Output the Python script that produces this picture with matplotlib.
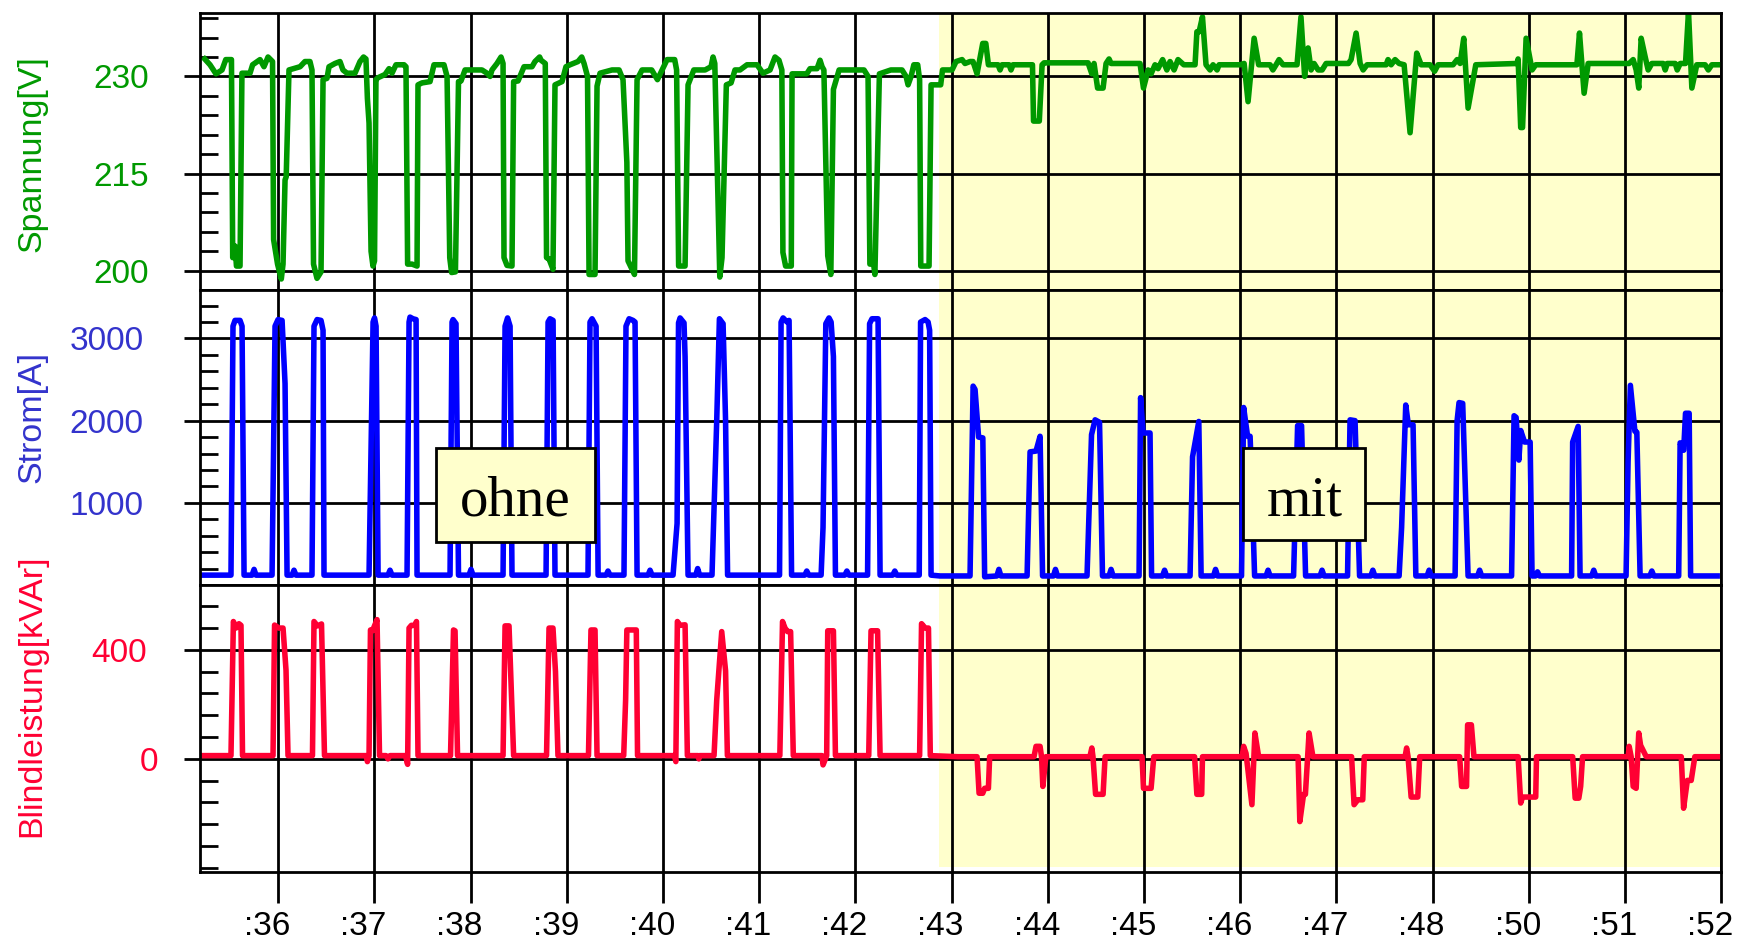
import numpy as np
import matplotlib
matplotlib.use("Agg")
import matplotlib.pyplot as plt
import matplotlib.transforms as mtransforms
from matplotlib.patches import Rectangle
from matplotlib.ticker import FixedLocator, MultipleLocator

plt.rcParams['font.family'] = ['Liberation Sans', 'DejaVu Sans']

# x axis: one unit per labelled grid step (:49 is not labelled in the original)
tick_pos = np.arange(36, 52)
tick_labels = [':36', ':37', ':38', ':39', ':40', ':41', ':42', ':43', ':44',
               ':45', ':46', ':47', ':48', ':50', ':51', ':52']
x_min, x_max = 35.187, 51.0
mit_start = 42.869   # begin of the "mit" section

# Spannung [V]
u_t = [35.236, 35.291, 35.353, 35.416, 35.455, 35.514, 35.527, 35.551, 35.566, 35.603,
       35.623, 35.707, 35.734, 35.811, 35.852, 35.894, 35.941, 35.952, 35.993, 36.032,
       36.050, 36.071, 36.083, 36.112, 36.227, 36.278, 36.330, 36.351, 36.367, 36.403,
       36.445, 36.466, 36.507, 36.528, 36.590, 36.642, 36.673, 36.715, 36.798, 36.850,
       36.887, 36.912, 36.927, 36.944, 36.965, 36.985, 37.001, 37.016, 37.037, 37.110,
       37.152, 37.183, 37.224, 37.308, 37.328, 37.345, 37.391, 37.443, 37.453, 37.495,
       37.578, 37.619, 37.723, 37.755, 37.783, 37.802, 37.842, 37.874, 37.900, 37.942,
       38.118, 38.170, 38.202, 38.222, 38.274, 38.316, 38.337, 38.347, 38.378, 38.430,
       38.447, 38.493, 38.555, 38.638, 38.669, 38.717, 38.732, 38.776, 38.789, 38.815,
       38.856, 38.877, 38.950, 38.991, 39.033, 39.116, 39.155, 39.179, 39.215, 39.231,
       39.293, 39.314, 39.345, 39.470, 39.543, 39.584, 39.624, 39.636, 39.703, 39.730,
       39.782, 39.882, 39.942, 39.990, 40.042, 40.121, 40.141, 40.162, 40.229, 40.260,
       40.320, 40.437, 40.499, 40.520, 40.538, 40.590, 40.613, 40.658, 40.707, 40.748,
       40.800, 40.873, 40.977, 41.039, 41.112, 41.164, 41.205, 41.235, 41.246, 41.274,
       41.333, 41.341, 41.494, 41.528, 41.601, 41.632, 41.653, 41.672, 41.712, 41.744,
       41.771, 41.830, 42.089, 42.131, 42.150, 42.189, 42.202, 42.249, 42.368, 42.484,
       42.526, 42.547, 42.578, 42.607, 42.647, 42.667, 42.679, 42.765, 42.786, 42.886,
       42.905, 43.004, 43.046, 43.108, 43.139, 43.191, 43.222, 43.264, 43.323, 43.355,
       43.382, 43.482, 43.503, 43.524, 43.597, 43.617, 43.638, 43.840, 43.851, 43.911,
       43.940, 43.960, 44.418, 44.457, 44.480, 44.517, 44.574, 44.605, 44.636, 44.657,
       44.958, 44.994, 45.042, 45.073, 45.114, 45.145, 45.193, 45.237, 45.270, 45.312,
       45.353, 45.413, 45.530, 45.549, 45.572, 45.607, 45.644, 45.686, 45.717, 45.759,
       45.780, 45.998, 46.040, 46.081, 46.144, 46.191, 46.310, 46.339, 46.372, 46.403,
       46.445, 46.590, 46.631, 46.669, 46.684, 46.705, 46.736, 46.767, 46.809, 46.851,
       46.892, 47.125, 47.152, 47.204, 47.246, 47.277, 47.318, 47.516, 47.536, 47.568,
       47.609, 47.651, 47.703, 47.765, 47.834, 47.880, 47.973, 48.020, 48.056, 48.212,
       48.254, 48.285, 48.323, 48.368, 48.448, 48.876, 48.888, 48.915, 48.934, 48.971,
       49.033, 49.071, 49.499, 49.526, 49.574, 49.616, 50.042, 50.084, 50.115, 50.142,
       50.167, 50.209, 50.240, 50.278, 50.396, 50.417, 50.438, 50.521, 50.542, 50.573,
       50.628, 50.659, 50.694, 50.745, 50.832, 50.865, 50.902, 50.995]
u_v = [232.7, 231.8, 230.4, 231.0, 232.6, 232.6, 202.0, 203.8, 200.7, 200.7,
       230.5, 230.5, 231.8, 232.6, 231.5, 233.0, 232.3, 204.8, 201.0, 198.7,
       201.0, 214.0, 214.5, 231.0, 231.5, 232.3, 232.3, 231.0, 201.0, 198.8,
       199.8, 229.5, 229.7, 231.5, 232.0, 232.3, 231.0, 230.5, 230.5, 232.3,
       233.0, 232.7, 226.6, 222.8, 203.0, 200.7, 201.5, 229.5, 229.8, 230.3,
       231.2, 230.5, 231.8, 231.8, 231.5, 201.0, 201.0, 200.7, 228.7, 229.0,
       229.2, 231.8, 231.8, 230.0, 202.0, 199.7, 199.8, 229.2, 229.3, 231.0,
       231.0, 230.5, 230.0, 231.0, 232.0, 233.0, 232.0, 202.0, 200.8, 200.7,
       229.2, 229.3, 231.5, 231.5, 232.3, 233.0, 232.5, 232.0, 202.0, 201.8,
       200.2, 228.7, 229.2, 231.5, 231.8, 232.3, 233.0, 232.0, 230.0, 199.4,
       199.4, 228.5, 230.5, 231.0, 231.0, 229.5, 216.7, 201.5, 199.4, 229.5,
       231.0, 231.0, 229.5, 231.0, 232.6, 232.6, 231.0, 200.7, 200.7, 228.7,
       231.0, 231.0, 231.5, 233.0, 232.0, 199.0, 202.0, 228.7, 229.0, 231.0,
       231.0, 231.8, 231.8, 230.5, 231.0, 233.0, 232.5, 231.0, 202.8, 200.7,
       200.7, 230.4, 230.4, 231.2, 231.2, 232.5, 231.5, 231.0, 202.3, 199.4,
       228.0, 231.0, 231.0, 230.0, 201.0, 201.0, 199.4, 230.4, 231.0, 231.0,
       230.0, 228.7, 230.0, 231.8, 231.8, 229.5, 200.7, 200.7, 228.7, 228.7,
       231.0, 231.0, 232.3, 232.6, 232.0, 232.3, 232.3, 230.4, 235.1, 235.1,
       231.8, 231.8, 231.0, 231.8, 231.8, 231.0, 231.8, 231.8, 223.1, 223.1,
       231.8, 232.1, 232.1, 230.4, 232.0, 228.2, 228.2, 232.0, 232.7, 232.0,
       232.0, 228.2, 231.0, 230.4, 231.8, 231.2, 232.6, 231.0, 232.3, 231.0,
       232.6, 231.8, 231.8, 236.9, 236.9, 239.2, 231.8, 231.0, 231.8, 231.0,
       231.8, 231.8, 232.0, 226.1, 235.9, 231.8, 231.8, 231.0, 231.8, 232.6,
       231.8, 231.8, 239.2, 230.0, 232.5, 234.4, 231.0, 232.0, 231.0, 231.0,
       232.0, 232.0, 232.6, 236.7, 232.0, 231.0, 231.8, 231.8, 232.6, 231.8,
       232.6, 232.0, 231.8, 221.3, 233.6, 231.8, 231.8, 230.8, 231.8, 231.8,
       232.6, 232.0, 235.9, 225.1, 231.8, 232.0, 232.7, 222.1, 222.1, 235.9,
       231.0, 231.8, 231.8, 236.7, 227.4, 232.0, 232.0, 232.6, 231.0, 228.2,
       235.9, 233.0, 231.0, 232.0, 232.0, 231.0, 232.0, 232.0, 231.0, 232.0,
       232.0, 240.0, 228.2, 231.8, 231.8, 231.0, 231.8, 231.8]

# Strom [A]
i_t = [35.218, 35.509, 35.530, 35.551, 35.603, 35.624, 35.645, 35.728, 35.749, 35.769,
       35.936, 35.967, 35.998, 36.040, 36.071, 36.092, 36.144, 36.164, 36.185,
       36.351, 36.372, 36.404, 36.445, 36.466, 36.476,
       36.944, 36.986, 37.001, 37.017, 37.038, 37.141, 37.162, 37.183,
       37.339, 37.360, 37.370, 37.401, 37.433, 37.443,
       37.786, 37.807, 37.817, 37.848, 37.874, 37.983, 38.004, 38.025,
       38.337, 38.358, 38.384, 38.410, 38.430,
       38.784, 38.805, 38.825, 38.857, 38.877,
       39.220, 39.241, 39.262, 39.304, 39.325, 39.408, 39.428, 39.449,
       39.594, 39.615, 39.647, 39.688, 39.709, 39.730, 39.844, 39.865, 39.886,
       40.104, 40.146, 40.161, 40.177, 40.218, 40.229, 40.260, 40.340, 40.360, 40.380,
       40.509, 40.558, 40.586, 40.624, 40.650, 40.671,
       41.211, 41.227, 41.248, 41.289, 41.310, 41.336, 41.474, 41.494, 41.515,
       41.643, 41.663, 41.692, 41.725, 41.747, 41.771, 41.792, 41.890, 41.911, 41.932,
       42.126, 42.147, 42.172, 42.235, 42.256, 42.388, 42.409, 42.430,
       42.663, 42.677, 42.724, 42.755, 42.771, 42.786,
       42.879, 43.191, 43.223, 43.243, 43.280, 43.324, 43.343, 43.470, 43.491, 43.512,
       43.784, 43.815, 43.877, 43.919, 43.945, 44.058, 44.079, 44.100,
       44.407, 44.454, 44.491, 44.537, 44.568, 44.636, 44.657, 44.678,
       44.948, 44.964, 44.990, 45.062, 45.078, 45.192, 45.213, 45.234,
       45.478, 45.504, 45.569, 45.593, 45.722, 45.743, 45.764,
       46.013, 46.035, 46.060, 46.076, 46.102, 46.112, 46.149, 46.268, 46.289, 46.310,
       46.554, 46.596, 46.637, 46.679, 46.829, 46.850, 46.871,
       47.115, 47.141, 47.193, 47.240, 47.357, 47.378, 47.399,
       47.651, 47.677, 47.720, 47.747, 47.796, 47.825, 47.942, 47.963, 47.984,
       48.233, 48.254, 48.274, 48.312, 48.368, 48.467, 48.488, 48.509,
       48.820, 48.846, 48.867, 48.896, 48.915, 48.955, 49.013, 49.033, 49.069, 49.090, 49.111,
       49.444, 49.455, 49.512, 49.532, 49.653, 49.674, 49.695,
       50.010, 50.031, 50.055, 50.102, 50.122, 50.142, 50.156, 50.257, 50.278, 50.299,
       50.557, 50.572, 50.609, 50.628, 50.666, 50.681, 50.957]
i_a = [120, 120, 3150, 3220, 3220, 3150, 120, 120, 190, 120,
       120, 3150, 3230, 3220, 2450, 120, 120, 180, 120,
       120, 3150, 3230, 3220, 3100, 120,
       120, 3200, 3250, 3150, 120, 120, 180, 120,
       120, 3200, 3260, 3240, 3230, 120,
       120, 3200, 3230, 3180, 120, 120, 190, 120,
       120, 3150, 3250, 3150, 120,
       120, 3200, 3240, 3220, 120,
       120, 3200, 3240, 3150, 120, 120, 170, 120,
       120, 3150, 3240, 3220, 3200, 120, 120, 180, 120,
       120, 750, 3190, 3250, 3190, 2780, 120, 120, 200, 120,
       120, 2000, 3240, 3180, 2000, 120,
       120, 3200, 3250, 3200, 3220, 120, 120, 170, 120,
       120, 700, 3180, 3250, 3200, 2780, 120, 120, 170, 120,
       120, 3180, 3240, 3240, 120, 120, 170, 120,
       120, 3200, 3230, 3200, 3100, 120,
       110, 110, 2420, 2380, 1800, 1790, 100, 110, 190, 110,
       110, 1620, 1630, 1810, 110, 110, 190, 110,
       110, 1830, 2010, 1980, 110, 110, 190, 110,
       110, 2280, 1850, 1850, 110, 110, 180, 110,
       110, 1560, 1990, 110, 110, 190, 110,
       110, 2160, 1950, 1810, 1810, 1500, 110, 110, 180, 110,
       110, 1940, 1940, 110, 110, 180, 110,
       110, 2010, 2000, 110, 110, 180, 110,
       110, 700, 2190, 1950, 1950, 110, 110, 180, 110,
       110, 2000, 2220, 2210, 110, 110, 180, 110,
       110, 2060, 2040, 1520, 1880, 1740, 1740, 110, 110, 160, 110,
       110, 1740, 1930, 110, 110, 180, 110,
       110, 1500, 2430, 1870, 1860, 800, 110, 110, 170, 110,
       110, 1730, 1640, 2090, 2090, 110, 110]

# Blindleistung [kVAr]
q_t = [35.218, 35.509, 35.534, 35.561, 35.592, 35.613, 35.629,
       35.946, 35.962, 36.008, 36.050, 36.081, 36.102,
       36.356, 36.372, 36.408, 36.450, 36.481,
       36.913, 36.927, 36.944, 36.959, 36.980, 37.027, 37.053,
       37.120, 37.141, 37.162,
       37.323, 37.345, 37.360, 37.384, 37.422, 37.437, 37.453,
       37.791, 37.822, 37.838, 37.864,
       38.337, 38.358, 38.399, 38.447,
       38.789, 38.815, 38.856, 38.882, 38.908,
       39.225, 39.251, 39.293, 39.314,
       39.591, 39.611, 39.624, 39.722, 39.735,
       40.119, 40.133, 40.149, 40.177, 40.229, 40.253,
       40.364, 40.372, 40.380,
       40.530, 40.558, 40.610, 40.650, 40.669,
       41.214, 41.242, 41.268, 41.294, 41.326, 41.354,
       41.653, 41.663, 41.701, 41.712, 41.771, 41.792,
       42.138, 42.162, 42.230, 42.256,
       42.667, 42.687, 42.726, 42.759, 42.778,
       43.064, 43.264, 43.285, 43.323, 43.343, 43.382, 43.395,
       43.856, 43.877, 43.919, 43.934, 43.948, 43.979,
       44.437, 44.457, 44.469, 44.496, 44.574, 44.595,
       44.979, 44.994, 45.073, 45.101,
       45.525, 45.549, 45.599, 45.607,
       46.019, 46.035, 46.060, 46.121, 46.152, 46.191,
       46.601, 46.619, 46.658, 46.677, 46.715, 46.755,
       47.157, 47.183, 47.222, 47.273, 47.289,
       47.713, 47.729, 47.744, 47.776, 47.845, 47.865,
       48.280, 48.301, 48.352, 48.363, 48.402, 48.429,
       48.888, 48.915, 48.934, 49.071, 49.079,
       49.455, 49.481, 49.519, 49.538, 49.558,
       50.032, 50.042, 50.063, 50.084, 50.115, 50.142, 50.161, 50.220,
       50.584, 50.608, 50.647, 50.687, 50.725, 50.978]
q_v = [12, 12, 504, 480, 496, 490, 12,
       12, 491, 480, 480, 326, 12,
       12, 504, 488, 495, 12,
       12, -10, 12, 473, 470, 511, 12,
       12, 0, 12,
       12, -20, 480, 490, 490, 504, 12,
       12, 473, 470, 12,
       12, 488, 488, 12,
       12, 480, 480, 320, 12,
       12, 473, 473, 12,
       12, 216, 473, 473, 12,
       12, -10, 504, 490, 492, 12,
       12, 0, 12,
       12, 216, 467, 323, 12,
       12, 504, 480, 467, 467, 12,
       12, -22, 12, 470, 470, 12,
       12, 470, 470, 12,
       12, 496, 480, 480, 12,
       8, 8, -126, -126, -108, -108, 8,
       8, 46, 46, 8, -101, 8,
       8, 40, 8, -130, -130, 8,
       8, -108, -108, 8,
       8, -130, -130, 8,
       8, 46, 20, -168, 95, 8,
       8, -230, -130, -130, 95, 8,
       8, -168, -150, -150, 8,
       8, 40, 8, -140, -140, 8,
       8, -101, -101, 125, 125, 8,
       8, -162, -140, -140, 8,
       8, -144, -144, -101, 8,
       8, 46, 8, -101, -108, 95, 50, 8,
       8, -181, -79, -79, 8, 8]

green, blue, red = '#009900', '#0000FF', '#FF0033'
W, H = 1737, 943
fig = plt.figure(figsize=(W / 100, H / 100), dpi=100)

def panel(top, bottom):
    return fig.add_axes([200 / W, 1 - bottom / H, 1521.3 / W, (bottom - top) / H])

ax1 = panel(13, 290)
ax2 = panel(290, 585)
ax3 = panel(585, 872)

ax1.plot(u_t, u_v, color=green, lw=4.0)
ax2.plot(i_t, i_a, color=blue, lw=4.0)
ax3.plot(q_t, q_v, color=red, lw=4.0)

ax1.set_ylim(197, 239.8)
ax1.yaxis.set_major_locator(FixedLocator([200, 215, 230]))
ax1.yaxis.set_minor_locator(FixedLocator(np.arange(197, 240, 3)))
ax2.set_ylim(0, 3590)
ax2.yaxis.set_major_locator(FixedLocator([1000, 2000, 3000]))
ax2.yaxis.set_minor_locator(MultipleLocator(200))
ax3.set_ylim(-415, 638)
ax3.yaxis.set_major_locator(FixedLocator([0, 400]))
ax3.yaxis.set_minor_locator(MultipleLocator(80))

for ax, tcol, pad in [(ax1, green, 25), (ax2, '#3333CC', 29), (ax3, red, 27)]:
    ax.set_xlim(x_min, x_max)
    ax.xaxis.set_major_locator(FixedLocator(tick_pos))
    ax.tick_params(axis='y', which='major', direction='out', length=11.5, width=2.0,
                   pad=pad, labelsize=24, labelcolor=tcol)
    ax.tick_params(axis='y', which='minor', direction='in', length=13, width=2.0)
    ax.grid(True, which='major', color='black', linewidth=2.0)
    for s in ax.spines.values():
        s.set_linewidth(2.0)
    ymin = 0.017 if ax is ax3 else 0
    ax.axvspan(mit_start, x_max, ymin=ymin, color='#FFFFCC', lw=0, zorder=0)

for ax in (ax1, ax2):
    ax.tick_params(axis='x', which='both', length=0, labelbottom=False)

ax3.set_xticks(tick_pos)
ax3.set_xticklabels(tick_labels)
ax3.tick_params(axis='x', direction='out', length=22, width=2.0, pad=6, labelsize=24)
shift = mtransforms.ScaledTranslation(-0.11, 0, fig.dpi_scale_trans)
for lbl in ax3.get_xticklabels():
    lbl.set_transform(lbl.get_transform() + shift)
zero_shift = mtransforms.ScaledTranslation(0.12, 0, fig.dpi_scale_trans)
lbl0 = ax3.get_yticklabels()[0]
lbl0.set_transform(lbl0.get_transform() + zero_shift)

# section labels
for x0, x1, y0, y1, tx, txt in [(37.642, 39.292, 526, 1662, 38.468, 'ohne'),
                                (46.032, 47.297, 546, 1662, 46.668, 'mit')]:
    ax2.add_patch(Rectangle((x0, y0), x1 - x0, y1 - y0, facecolor='#FFFFCC',
                            edgecolor='black', lw=2.0, zorder=5))
    ax2.text(tx, 850, txt, ha='center', va='baseline', fontsize=41,
             family=['Liberation Serif', 'DejaVu Serif'], zorder=6)

fig.text(32 / W, 1 - 153.5 / H, 'Spannung[V]', rotation=90, color=green,
         fontsize=24.5, ha='center', va='center')
fig.text(32 / W, 1 - 416.7 / H, 'Strom[A]', rotation=90, color='#3333CC',
         fontsize=24.5, ha='center', va='center')
fig.text(32 / W, 1 - 695.5 / H, 'Blindleistung[kVAr]', rotation=90, color=red,
         fontsize=24.5, ha='center', va='center')

fig.savefig('out.png', dpi=100)
